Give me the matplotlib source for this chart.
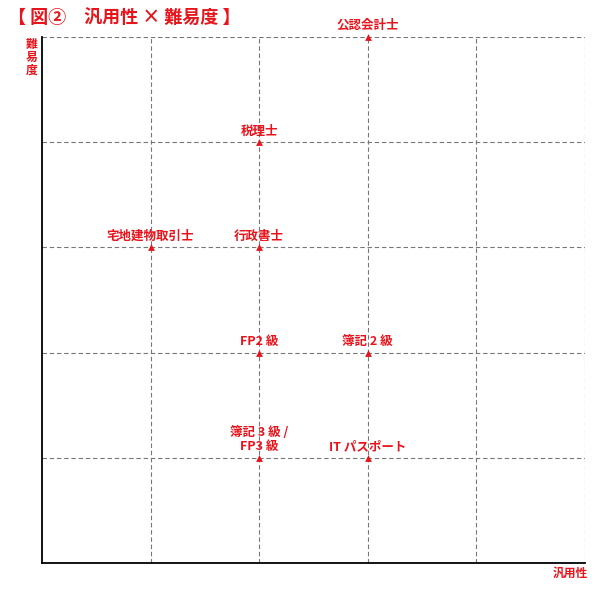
import matplotlib
matplotlib.use("Agg")
import matplotlib.pyplot as plt

plt.rcParams['font.family'] = ['Noto Sans CJK JP', 'DejaVu Sans']

RED = '#e8141c'

# 資格データ (汎用性, 難易度)
names = ['公認会計士', '税理士', '宅地建物取引士', '行政書士',
         'FP2 級', '簿記 2 級', '簿記 3 級 /\nFP3 級', 'IT パスポート']
versatility = [3, 2, 1, 2, 2, 3, 2, 3]
difficulty = [5, 4, 3, 3, 2, 2, 1, 1]

fig = plt.figure(figsize=(6, 6), dpi=100)
ax = fig.add_axes([0.07, 0.0617, 0.905, 0.8766])

ax.set_xlim(0, 5)
ax.set_ylim(0, 5)
ax.set_xticks(range(1, 6))
ax.set_yticks(range(1, 6))
ax.grid(True, color='#777777', linestyle=(0, (4, 2.5)), linewidth=0.8)
ax.tick_params(length=0, labelbottom=False, labelleft=False)

for s in ['top', 'right']:
    ax.spines[s].set_visible(False)
ax.spines['left'].set_color('black')
ax.spines['bottom'].set_color('black')
ax.spines['left'].set_linewidth(1.3)
ax.spines['bottom'].set_linewidth(1.3)

ax.scatter(versatility, difficulty, marker='^', s=24, color=RED, zorder=5,
           clip_on=False, linewidths=0)

for n, x, y in zip(names, versatility, difficulty):
    ax.annotate(n, (x, y), xytext=(0, 3.5), textcoords='offset points',
                ha='center', va='bottom', color=RED, fontsize=9,
                fontweight='bold', linespacing=1.05)

fig.text(0.014, 0.969, '【 図②　汎用性 × 難易度 】', color=RED, fontsize=13,
         fontweight='bold', ha='left', va='center')
fig.text(0.053, 0.905, '難\n易\n度', color=RED, fontsize=8.5, fontweight='bold',
         ha='center', va='center', linespacing=1.0)
fig.text(0.95, 0.045, '汎用性', color=RED, fontsize=8.5, fontweight='bold',
         ha='center', va='center')

fig.savefig('out.png', dpi=100, facecolor='white')
